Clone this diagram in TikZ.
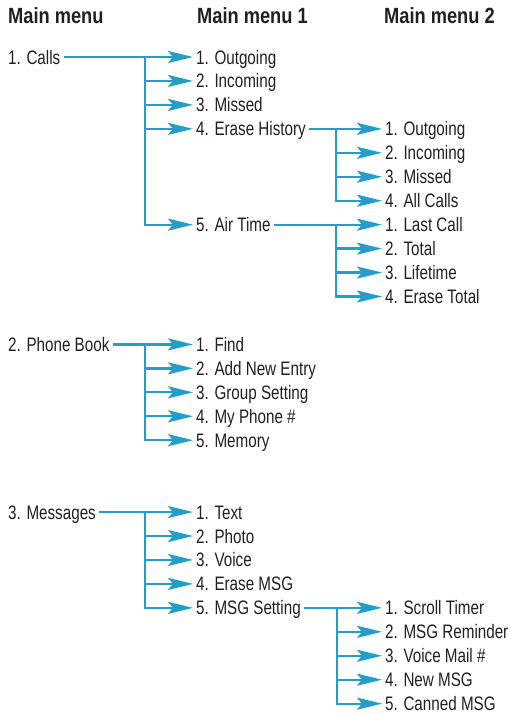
\documentclass[tikz,border=0pt]{standalone}
\usepackage{fontspec}
\usetikzlibrary{arrows.meta}
\newfontfamily\itemfont[FakeStretch=0.78]{Liberation Sans}
\newfontfamily\headfont[FakeStretch=0.83]{Liberation Sans}
\definecolor{linecol}{RGB}{35,158,201}
\definecolor{txtcol}{RGB}{35,31,32}
\tikzset{
  item/.style={anchor=west, inner xsep=3pt, inner ysep=0pt, text height=14pt, text depth=0pt,
    text=txtcol, font=\itemfont\fontsize{19.5}{20}\selectfont},
  head/.style={anchor=base west, inner sep=0pt, text=txtcol,
    font=\headfont\bfseries\fontsize{22}{24}\selectfont},
  conn/.style={draw=linecol, line width=2.3pt, -{Stealth[length=25pt,width=12pt,inset=5pt]}}
}
\begin{document}
\begin{tikzpicture}[x=1pt,y=-1pt]
\useasboundingbox (0,0) rectangle (509,715);
% headers
\node[head] (h0) at (8,23) {Main menu};
\node[head] (h1) at (197,23) {Main menu 1};
\node[head] (h2) at (384,23) {Main menu 2};
% level 0
\node[item] (calls) at (5,57) {1. Calls};
\node[item] (phone) at (5,344.4) {2. Phone Book};
\node[item] (msgs)  at (5,512.05) {3. Messages};
% calls level 1
\node[item] (c1) at (193,57) {1. Outgoing};
\node[item] (c2) at (193,80.95) {2. Incoming};
\node[item] (c3) at (193,104.9) {3. Missed};
\node[item] (c4) at (193,128.85) {4. Erase History};
\node[item] (c5) at (193,224.65) {5. Air Time};
% erase history level 2
\node[item] (e1) at (382,128.85) {1. Outgoing};
\node[item] (e2) at (382,152.8) {2. Incoming};
\node[item] (e3) at (382,176.75) {3. Missed};
\node[item] (e4) at (382,200.7) {4. All Calls};
% air time level 2
\node[item] (a1) at (382,224.65) {1. Last Call};
\node[item] (a2) at (382,248.6) {2. Total};
\node[item] (a3) at (382,272.55) {3. Lifetime};
\node[item] (a4) at (382,296.5) {4. Erase Total};
% phone book level 1
\node[item] (p1) at (193,344.4) {1. Find};
\node[item] (p2) at (193,368.35) {2. Add New Entry};
\node[item] (p3) at (193,392.3) {3. Group Setting};
\node[item] (p4) at (193,416.25) {4. My Phone \#};
\node[item] (p5) at (193,440.2) {5. Memory};
% messages level 1
\node[item] (m1) at (193,512.05) {1. Text};
\node[item] (m2) at (193,536) {2. Photo};
\node[item] (m3) at (193,559.95) {3. Voice};
\node[item] (m4) at (193,583.9) {4. Erase MSG};
\node[item] (m5) at (193,607.85) {5. MSG Setting};
% msg setting level 2
\node[item] (s1) at (382,607.85) {1. Scroll Timer};
\node[item] (s2) at (382,631.8) {2. MSG Reminder};
\node[item] (s3) at (382,655.75) {3. Voice Mail \#};
\node[item] (s4) at (382,679.7) {4. New MSG};
\node[item] (s5) at (382,703.65) {5. Canned MSG};
% trunk coordinates
\coordinate (tc) at (145,57);
\coordinate (te) at (336,128.85);
\coordinate (ta) at (336,224.65);
\coordinate (tp) at (145,344.4);
\coordinate (tm) at (145,512.05);
\coordinate (ts) at (337,607.85);
% connectors
\draw[conn] (calls.east) -- (c1.west);
\foreach \n in {c2,c3,c4,c5} \draw[conn] (tc) |- (\n.west);
\draw[conn] (c4.east) -- (e1.west);
\foreach \n in {e2,e3,e4} \draw[conn] (te) |- (\n.west);
\draw[conn] (c5.east) -- (a1.west);
\foreach \n in {a2,a3,a4} \draw[conn] (ta) |- (\n.west);
\draw[conn] (phone.east) -- (p1.west);
\foreach \n in {p2,p3,p4,p5} \draw[conn] (tp) |- (\n.west);
\draw[conn] (msgs.east) -- (m1.west);
\foreach \n in {m2,m3,m4,m5} \draw[conn] (tm) |- (\n.west);
\draw[conn] (m5.east) -- (s1.west);
\foreach \n in {s2,s3,s4,s5} \draw[conn] (ts) |- (\n.west);
\end{tikzpicture}
\end{document}
